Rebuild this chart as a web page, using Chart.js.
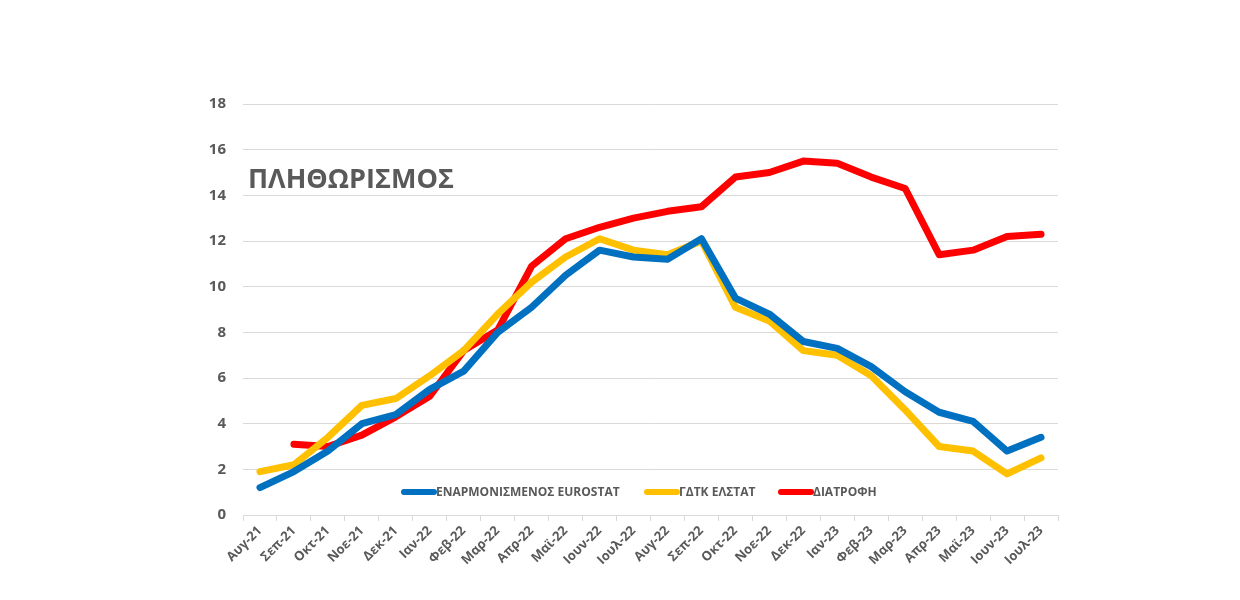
<!DOCTYPE html>
<html>
<head>
<meta charset="utf-8">
<script src="https://cdn.jsdelivr.net/npm/chart.js@4.4.1/dist/chart.umd.min.js"></script>
<style>
  html, body { margin: 0; padding: 0; background: #fff; }
  #wrap { width: 1240px; height: 600px; position: relative; }
</style>
</head>
<body>
<div id="wrap"><canvas id="inflationChart"></canvas></div>
<script>
// Months (Greek abbreviations)
const months = ['Αυγ-21', 'Σεπ-21', 'Οκτ-21', 'Νοε-21', 'Δεκ-21', 'Ιαν-22', 'Φεβ-22', 'Μαρ-22',
    'Απρ-22', 'Μαϊ-22', 'Ιουν-22', 'Ιουλ-22', 'Αυγ-22', 'Σεπ-22', 'Οκτ-22', 'Νοε-22',
    'Δεκ-22', 'Ιαν-23', 'Φεβ-23', 'Μαρ-23', 'Απρ-23', 'Μαϊ-23', 'Ιουν-23', 'Ιουλ-23'];

// Harmonised index (Eurostat)
const eurostat = [1.2, 1.9, 2.8, 4.0, 4.4, 5.5, 6.3, 8.0, 9.1, 10.5, 11.6, 11.3,
    11.2, 12.1, 9.5, 8.8, 7.6, 7.3, 6.5, 5.4, 4.5, 4.1, 2.8, 3.4];

// CPI (ELSTAT)
const elstat = [1.9, 2.2, 3.4, 4.8, 5.1, 6.1, 7.2, 8.8, 10.2, 11.3, 12.1, 11.6,
    11.4, 12.0, 9.1, 8.5, 7.2, 7.0, 6.1, 4.6, 3.0, 2.8, 1.8, 2.5];

// Food
const food = [null, 3.1, 3.0, 3.5, 4.3, 5.2, 7.2, 8.1, 10.9, 12.1, 12.6, 13.0,
    13.3, 13.5, 14.8, 15.0, 15.5, 15.4, 14.8, 14.3, 11.4, 11.6, 12.2, 12.3];

const yTicks = [0, 2, 4, 6, 8, 10, 12, 14, 16, 18];

const textGrey = '#595959';
const gridGrey = '#d9d9d9';

// Title drawn inside the plot area, top-left
const titlePlugin = {
    id: 'innerTitle',
    afterDraw(chart) {
        const ctx = chart.ctx;
        const area = chart.chartArea;
        ctx.save();
        ctx.fillStyle = textGrey;
        ctx.font = "bold 27px 'Open Sans', sans-serif";
        ctx.textAlign = 'left';
        ctx.textBaseline = 'alphabetic';
        ctx.fillText('ΠΛΗΘΩΡΙΣΜΟΣ', area.left + 5, 188);
        ctx.restore();
    }
};

// Legend drawn inside the plot area, near the bottom
const innerLegend = {
    id: 'innerLegend',
    afterDraw(chart) {
        const ctx = chart.ctx;
        const y = 492;
        const starts = [401, 644, 778];
        ctx.save();
        ctx.font = "bold 12px 'Open Sans', sans-serif";
        ctx.textBaseline = 'middle';
        chart.data.datasets.forEach((ds, i) => {
            const x = starts[i];
            ctx.strokeStyle = ds.borderColor;
            ctx.lineWidth = 6;
            ctx.lineCap = 'round';
            ctx.beginPath();
            ctx.moveTo(x + 3, y);
            ctx.lineTo(x + 33, y);
            ctx.stroke();
            ctx.fillStyle = textGrey;
            ctx.fillText(ds.label, x + 35, y + 1);
        });
        ctx.restore();
    }
};

const ctx = document.getElementById('inflationChart').getContext('2d');
new Chart(ctx, {
    type: 'line',
    data: {
        labels: months,
        datasets: [
            { label: 'ΕΝΑΡΜΟΝΙΣΜΕΝΟΣ EUROSTAT', data: eurostat, borderColor: '#0070C0' },
            { label: 'ΓΔΤΚ ΕΛΣΤΑΤ', data: elstat, borderColor: '#FFC000' },
            { label: 'ΔΙΑΤΡΟΦΗ', data: food, borderColor: '#FF0000' }
        ].map(d => Object.assign(d, {
            borderWidth: 7,
            pointRadius: 0,
            tension: 0,
            fill: false,
            borderCapStyle: 'round',
            borderJoinStyle: 'round',
            spanGaps: false
        }))
    },
    options: {
        responsive: true,
        maintainAspectRatio: false,
        animation: false,
        layout: { padding: { top: 104, right: 182, left: 0, bottom: 0 } },
        plugins: {
            legend: { display: false },
            tooltip: { enabled: false },
            title: { display: false }
        },
        scales: {
            x: {
                offset: true,
                grid: {
                    display: true,
                    drawOnChartArea: false,
                    offset: true,
                    tickLength: 6,
                    color: gridGrey
                },
                border: { display: true, color: gridGrey, width: 1 },
                ticks: {
                    autoSkip: false,
                    maxRotation: 45,
                    minRotation: 45,
                    color: textGrey,
                    padding: 2,
                    font: { family: "'Open Sans', sans-serif", size: 13, weight: 'bold' }
                },
                afterFit(scale) { scale.height = 85; }
            },
            y: {
                min: 0,
                max: 18,
                afterBuildTicks(scale) { scale.ticks = yTicks.map(v => ({ value: v })); },
                grid: { color: gridGrey, drawTicks: false, lineWidth: 1 },
                border: { display: false },
                ticks: {
                    color: textGrey,
                    padding: 17,
                    font: { family: "'Open Sans', sans-serif", size: 15, weight: 'bold' }
                },
                afterFit(scale) { scale.width = 243; }
            }
        }
    },
    plugins: [titlePlugin, innerLegend]
});
</script>
</body>
</html>
